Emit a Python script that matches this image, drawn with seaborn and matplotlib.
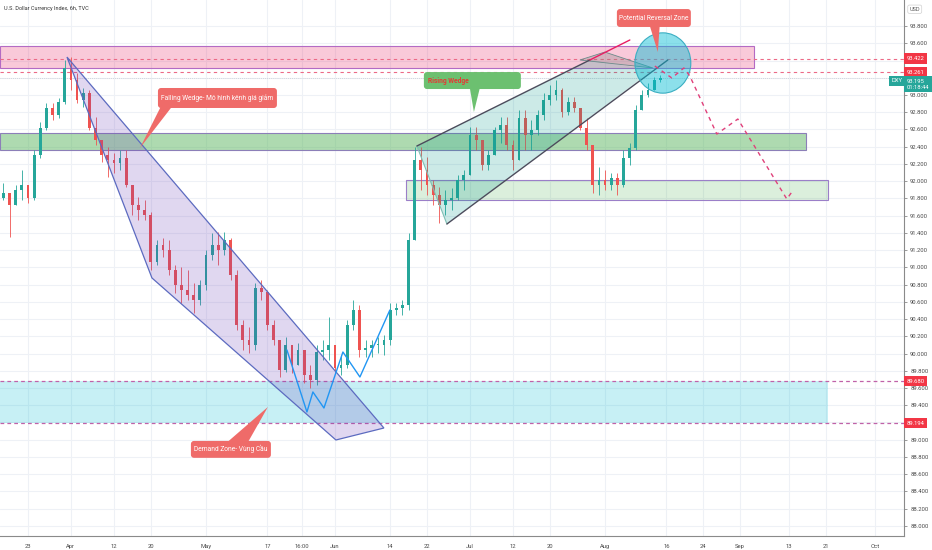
import numpy as np
import pandas as pd
import matplotlib
matplotlib.use("Agg")
import matplotlib.pyplot as plt
import matplotlib.transforms as mtransforms
from matplotlib.patches import Polygon, Rectangle, Ellipse, FancyBboxPatch
import seaborn as sns

sns.set_theme(style="white")
plt.rcParams['font.family'] = ['Roboto', 'DejaVu Sans']

# ---------------- data (daily view of the 6h DXY chart) ----------------
dates = pd.bdate_range("2021-03-17", "2021-08-13")
first_open = 91.80
close = [91.863, 91.723, 91.897, 91.955, 91.805, 92.303, 92.617, 92.849, 92.768, 92.918,
         93.313, 93.174, 92.942, 93.023, 92.617, 92.478, 92.303, 92.245, 92.211, 92.269,
         91.955, 91.723, 91.665, 91.607, 91.062, 91.259, 91.201, 90.969, 90.795, 90.737,
         90.679, 90.621, 90.795, 91.143, 91.259, 91.201, 91.317, 90.911, 90.331, 90.157,
         90.099, 90.761, 90.714, 90.331, 90.157, 89.809, 90.099, 89.867, 90.041, 89.751,
         89.693, 90.018, 90.041, 90.099, 89.833, 89.867, 90.331, 90.505, 90.041, 90.065,
         90.099, 90.099, 90.157, 90.505, 90.529, 90.563, 91.317, 92.245, 92.129, 91.955,
         91.839, 91.723, 91.781, 91.805, 92.013, 92.071, 92.536, 92.478, 92.187, 92.303,
         92.594, 92.652, 92.420, 92.245, 92.733, 92.536, 92.594, 92.768, 92.942, 92.999,
         93.058, 92.802, 92.918, 92.849, 92.617, 92.420, 91.955, 92.013, 91.955, 92.037,
         91.955, 92.269, 92.385, 92.826, 92.999, 93.058, 93.174, 93.197]
high = [91.979, 91.839, 91.955, 92.129, 91.955, 92.361, 92.686, 92.907, 92.907, 92.965,
        93.406, 93.440, 93.255, 93.081, 93.058, 92.744, 92.478, 92.396, 92.327, 92.361,
        92.361, 91.897, 91.816, 91.781, 91.642, 91.317, 91.341, 91.317, 91.027, 91.004,
        90.969, 90.819, 90.853, 91.201, 91.399, 91.410, 91.410, 91.341, 90.969, 90.389,
        90.308, 90.819, 90.853, 90.737, 90.389, 90.157, 90.192, 90.099, 90.123, 90.041,
        89.867, 90.099, 90.157, 90.424, 90.099, 89.983, 90.389, 90.621, 90.563, 90.157,
        90.157, 90.192, 90.215, 90.587, 90.587, 90.621, 91.399, 92.396, 92.396, 92.280,
        92.013, 91.932, 91.897, 91.921, 92.071, 92.129, 92.628, 92.628, 92.478, 92.361,
        92.628, 92.744, 92.744, 92.478, 92.826, 92.826, 92.710, 92.826, 93.023, 93.116,
        93.174, 93.081, 92.976, 92.976, 92.826, 92.733, 92.420, 92.164, 92.129, 92.095,
        92.095, 92.361, 92.443, 92.884, 93.058, 93.139, 93.208, 93.232]
low = [91.781, 91.352, 91.723, 91.781, 91.747, 91.781, 92.269, 92.594, 92.710, 92.733,
       92.895, 93.058, 92.907, 92.860, 92.594, 92.420, 92.222, 92.048, 92.095, 92.129,
       91.932, 91.607, 91.549, 91.549, 90.969, 91.027, 91.120, 90.911, 90.703, 90.587,
       90.621, 90.471, 90.563, 90.737, 91.085, 91.027, 91.143, 90.853, 90.273, 90.041,
       90.007, 90.041, 90.621, 90.273, 90.099, 89.728, 89.786, 89.775, 89.867, 89.659,
       89.600, 89.635, 89.925, 89.925, 89.775, 89.751, 89.833, 90.273, 89.960, 89.960,
       89.960, 90.007, 89.983, 90.099, 90.447, 90.447, 90.505, 91.317, 91.897, 91.839,
       91.723, 91.515, 91.607, 91.665, 91.781, 91.897, 92.071, 92.361, 92.129, 92.129,
       92.303, 92.443, 92.361, 92.129, 92.245, 92.361, 92.361, 92.536, 92.710, 92.884,
       92.942, 92.744, 92.768, 92.802, 92.594, 92.361, 91.863, 91.839, 91.897, 91.897,
       91.839, 91.932, 92.187, 92.361, 92.826, 92.976, 93.058, 93.150]

xtick_dates = ["2021-03-23", "2021-04-01", "2021-04-12", "2021-04-20", "2021-05-03",
               "2021-05-17", "2021-05-24 16:00", "2021-06-01", "2021-06-14", "2021-06-22",
               "2021-07-01", "2021-07-12", "2021-07-20", "2021-08-02", "2021-08-16",
               "2021-08-24", "2021-09-01", "2021-09-13", "2021-09-21", "2021-10-01"]
xtick_labels = ["23", "Apr", "12", "20", "May", "17", "16:00", "Jun", "14", "22",
                "Jul", "12", "20", "Aug", "16", "24", "Sep", "13", "21", "Oct"]

marked_levels_red = [93.422, 93.261, 89.680, 89.194]
hidden_tick_levels = [93.4, 93.2, 89.2]
last_price = 93.195
last_time = "01:18:44"
title = "U.S. Dollar Currency Index, 6h, TVC"

# drawings (x in trading days from 2021-04-01, y in price)
w_pattern_x = [35.18, 38.44, 39.41, 41.21, 44.30, 47.07, 51.95]
w_pattern_y = [90.041, 89.322, 89.554, 89.368, 90.018, 89.728, 90.505]
proj_x = [95.11, 97.88, 99.84, 100.81, 105.21, 108.63, 116.61, 117.43]
proj_y = [93.336, 93.197, 93.313, 93.220, 92.547, 92.721, 91.793, 91.874]

# ---------------- figure ----------------
W, H = 932, 550
fig = plt.figure(figsize=(W / 100, H / 100), dpi=100)
fig.patch.set_facecolor("white")
ax = fig.add_axes([0, 14 / H, 904 / W, 536 / H])
ax.set_facecolor("white")

x0_ref = np.datetime64("2021-04-01")
xs = np.array([np.busday_count(x0_ref, np.datetime64(d.date())) for d in dates], dtype=float)
c = np.array(close)
o = np.r_[first_open, c[:-1]]
hi = np.maximum(np.array(high), np.maximum(o, c))
lo = np.minimum(np.array(low), np.minimum(o, c))

XMIN, XMAX = -11.56, 135.7
YMIN, YMAX = 87.883, 94.102
ax.set_xlim(XMIN, XMAX)
ax.set_ylim(YMIN, YMAX)

# ticks
tick_pos = []
for d in xtick_dates:
    ts = pd.Timestamp(d)
    tick_pos.append(np.busday_count(x0_ref, np.datetime64(ts.date())) + ts.hour / 24)
ax.set_xticks(tick_pos)
ax.set_xticklabels(xtick_labels)
yt = np.round(np.arange(88.0, 93.81, 0.2), 1)
ax.set_yticks(yt)
ax.set_yticklabels(["" if any(abs(v - h) < 1e-6 for h in hidden_tick_levels) else f"{v:.3f}"
                    for v in yt])
ax.yaxis.tick_right()
ax.tick_params(axis="both", labelsize=4.2, colors="#4a4a4a", length=2.5, width=0.6, pad=2,
               color="#8a8a8a")
ax.tick_params(axis="x", pad=3)
ax.grid(True, color="#eef1f6", lw=0.8, zorder=0)
ax.set_axisbelow(True)
for s in ["top", "left"]:
    ax.spines[s].set_visible(False)
for s in ["right", "bottom"]:
    ax.spines[s].set_color("#8a8a8a")
    ax.spines[s].set_linewidth(0.8)

# zones
def zone(xa, xb, ya, yb, fc, ec, ls="-", z=1):
    ax.add_patch(Rectangle((xa, ya), xb - xa, yb - ya, facecolor=fc, edgecolor=ec,
                           lw=0.8, ls=ls, zorder=z))

zone(XMIN, 111.24, 93.312, 93.568, (0.914, 0.118, 0.388, 0.24), "#b36bc4")
zone(XMIN, 119.7, 92.361, 92.559, (0.298, 0.686, 0.314, 0.45), "#8c7fb8")
zone(54.56, 123.3, 91.781, 92.013, (0.298, 0.686, 0.314, 0.2), "#9b7fc8")
zone(XMIN, 123.3, 89.194, 89.680, (0.0, 0.737, 0.831, 0.22), "none")

# dashed level lines
for lv in [93.422, 93.261]:
    ax.axhline(lv, color="#ec6a86", lw=0.8, ls=(0, (3, 3)), zorder=2)
for lv in [89.680, 89.194]:
    ax.axhline(lv, color="#c062a8", lw=0.9, ls=(0, (3, 2.5)), zorder=2)
ax.axhline(last_price, color="#c9ccd4", lw=0.6, ls=(0, (1, 1.5)), zorder=1.5)

# candles
up = c >= o
cols = np.where(up, "#26a69a", "#ef5350")
ax.vlines(xs, lo, hi, colors=cols, lw=0.6, zorder=3)
body = np.maximum(np.abs(c - o), 0.008)
ax.bar(xs, body, bottom=np.minimum(o, c), width=0.45, color=cols, lw=0, zorder=3)

# falling wedge
ax.add_patch(Polygon([(-0.65, 93.440), (13.19, 90.877), (43.16, 88.997), (50.98, 89.136)],
                     closed=True, facecolor=(0.404, 0.227, 0.718, 0.2), edgecolor="#5c6bc0",
                     lw=0.9, zorder=4))

# rising wedge
ax.add_patch(Polygon([(56.35, 92.408), (61.24, 91.503), (94.79, 93.290), (84.53, 93.406)],
                     closed=True, facecolor=(0.0, 0.588, 0.533, 0.2), edgecolor="none", zorder=4))
ax.add_patch(Polygon([(82.9, 93.406), (86.97, 93.498), (94.79, 93.313)], closed=True,
                     facecolor=(0.5, 0.5, 0.5, 0.3), edgecolor="#6a8a8a", lw=0.6, zorder=4))
ax.plot([56.35, 61.24], [92.408, 91.503], color="#7fbfb5", lw=0.8, zorder=4)
ax.plot([56.35, 84.53], [92.408, 93.406], color="#4c4c5c", lw=1.0, zorder=5)
ax.plot([84.53, 91.04], [93.406, 93.638], color="#e91e63", lw=1.0, zorder=5)
ax.plot([61.24, 97.23], [91.503, 93.406], color="#4c4c5c", lw=1.0, zorder=5)

# reversal circle
ax.add_patch(Ellipse((96.42, 93.371), 9.1, 0.70, facecolor=(0.0, 0.737, 0.831, 0.45),
                     edgecolor="#3aaec2", lw=0.8, zorder=6))

# W pattern + projection
sns.lineplot(x=w_pattern_x, y=w_pattern_y, sort=False, ax=ax, color="#2196f3", lw=1.0,
             zorder=6, estimator=None)
sns.lineplot(x=proj_x, y=proj_y, sort=False, ax=ax, color="#e0407a", lw=1.0,
             zorder=7, estimator=None, linestyle=(0, (3, 3)))

# callouts
ASPECT = 6.14 / 86.2
def callout(xa, xb, ya, yb, ptr, text, fc, tc="white", ha="center", tx=None, fw="normal"):
    ax.add_patch(Polygon(ptr, closed=True, facecolor=fc, edgecolor="none", zorder=8))
    ax.add_patch(FancyBboxPatch((xa, ya), xb - xa, yb - ya,
                                boxstyle="round,pad=0,rounding_size=0.5",
                                mutation_aspect=ASPECT, facecolor=fc, edgecolor="none",
                                zorder=8))
    if tx is None:
        tx = (xa + xb) / 2
    ax.text(tx, (ya + yb) / 2, text, ha=ha, va="center", color=tc, fontsize=4.8,
            fontweight=fw, zorder=9)

callout(14.17, 33.55, 92.849, 93.081, [(14.6, 92.86), (16.4, 92.86), (11.24, 92.385)],
        "Falling Wedge- Mô hình kênh giá giảm", "#ef6b69")
callout(57.49, 73.29, 93.069, 93.266, [(64.98, 93.08), (66.6, 93.08), (65.64, 92.802)],
        "Rising Wedge", "#6cc070", tc="#e53935", ha="left", tx=58.2, fw="bold")
callout(88.93, 100.98, 93.789, 93.997, [(94.3, 93.80), (95.9, 93.80), (95.6, 93.498)],
        "Potential Reversal Zone", "#ef6b69")
callout(19.54, 32.57, 88.790, 88.986, [(25.6, 88.98), (28.9, 88.98), (32.08, 89.380)],
        "Demand Zone- Vùng Cầu", "#ef6b69")

# title
ax.text(0.004, 0.988, title, transform=ax.transAxes, fontsize=4.0, color="#333333",
        ha="left", va="top", zorder=10)

# right-axis price labels
trans = mtransforms.blended_transform_factory(ax.transAxes, ax.transData)
for lv in marked_levels_red:
    ax.text(1.003, lv, f"{lv:.3f}", transform=trans, fontsize=4.2, color="white",
            ha="left", va="center", zorder=20, clip_on=False,
            bbox=dict(boxstyle="square,pad=0.45", fc="#f23645", ec="none"))
ax.text(1.003, last_price - 0.07, f"{last_price:.3f}\n{last_time}", transform=trans,
        fontsize=4.2, color="white", ha="left", va="center", zorder=20, clip_on=False,
        linespacing=1.15, bbox=dict(boxstyle="square,pad=0.45", fc="#26a69a", ec="none"))
ax.text(0.9985, last_price - 0.03, "DXY", transform=trans, fontsize=4.2, color="white",
        ha="right", va="center", zorder=20, clip_on=False,
        bbox=dict(boxstyle="square,pad=0.45", fc="#26a69a", ec="none"))
ax.text(1.006, 93.995, "USD", transform=trans, fontsize=4.0, color="#555555",
        ha="left", va="center", zorder=20, clip_on=False,
        bbox=dict(boxstyle="round,pad=0.3", fc="white", ec="#d0d0d0", lw=0.5))

fig.savefig("out.png", dpi=100)
